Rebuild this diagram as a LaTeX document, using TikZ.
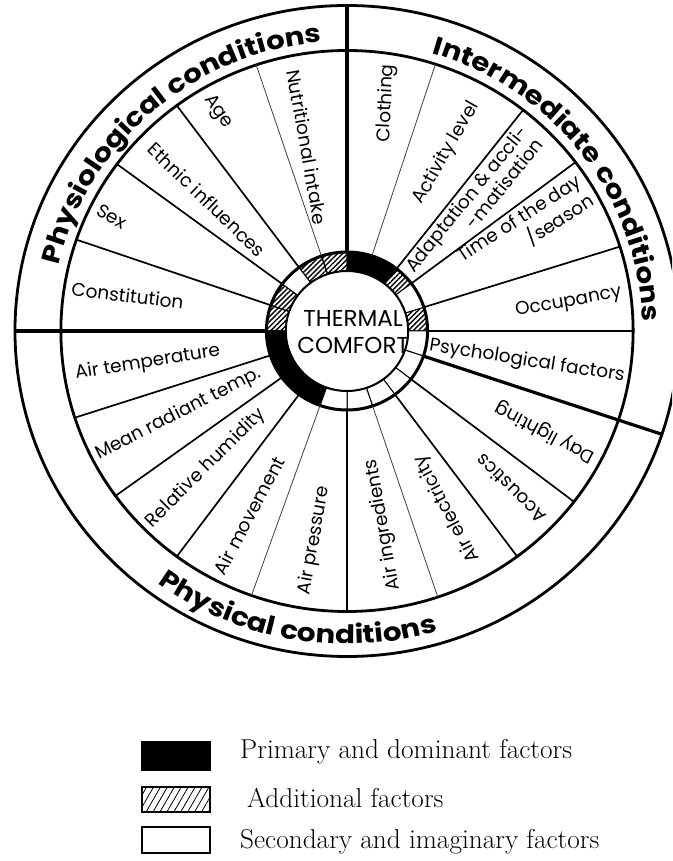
\documentclass[tikz,border=0pt]{standalone}
\usepackage{fontspec}
\setsansfont{Poppins}
\newfontfamily\headfont{Poppins}[FakeStretch=1.15]
\usetikzlibrary{decorations.text,patterns.meta}
\begin{document}
\begin{tikzpicture}[x=1pt,y=1pt,
  rim/.style={line width=2.8pt},
  spoke/.style={line width=1.7pt},
  fine/.style={line width=0.8pt, black!75},
  divider/.style={line width=3.2pt},
  lab/.style={font=\sffamily\fontsize{18.5}{20}\selectfont, inner sep=0pt, align=center},
  segline/.style={line width=1pt},
  segblack/.style={segline, fill=black},
  seghatch/.style={segline, pattern={Lines[angle=45,distance=3.6pt,line width=1.4pt]}},
  segwhite/.style={segline, fill=white},
  keybox/.style={line width=1.2pt},
  keytext/.style={font=\fontsize{27.3}{29}\selectfont, anchor=base west, inner sep=0pt}
]
\clip (-347,-530) rectangle (325,331);
\fill[white] (-347,-530) rectangle (325,331);

\begin{scope}[xscale=1.02]
  % outer band carrying the three group titles
  \draw[rim] (0,0) circle[radius=325.5];
  \draw[rim] (0,0) circle[radius=280.5];

  % central ring, one segment per factor
  \foreach \a/\b in {90/72, 72/52, -109.5/-126.5, -126.5/-144, -144/-162, -162/-180}
    \draw[segblack] (\a:60) arc[start angle=\a, end angle=\b, radius=60]
      -- (\b:79) arc[start angle=\b, end angle=\a, radius=79] -- cycle;
  \foreach \a/\b in {180/161, 161/143.5, 126.5/108.5, 108.5/90, 52/37, 17.5/0}
    \draw[seghatch] (\a:60) arc[start angle=\a, end angle=\b, radius=60]
      -- (\b:79) arc[start angle=\b, end angle=\a, radius=79] -- cycle;
  \foreach \a/\b in {143.5/126.5, 37/17.5, 0/-18.5, -18.5/-37.5, -37.5/-53.5, -53.5/-71.5, -71.5/-90, -90/-109.5}
    \draw[segwhite] (\a:60) arc[start angle=\a, end angle=\b, radius=60]
      -- (\b:79) arc[start angle=\b, end angle=\a, radius=79] -- cycle;
  \draw[line width=3pt] (0,0) circle[radius=79];
  \draw[line width=2pt] (0,0) circle[radius=60];

  % spokes between the factors
  \foreach \a in {161,143.5,126.5,52,37,17.5,0,-37.5,-53.5,-90,-126.5,-144,-162}
    \draw[spoke] (\a:79) -- (\a:280.5);
  \foreach \a in {108.5,72,-71.5,-109.5}
    \draw[fine] (\a:79) -- (\a:280.5);
  \foreach \a in {180,90,-18.5}
    \draw[divider] (\a:79) -- (\a:325.5);

  % centre
  \node (tc) [font=\sffamily\fontsize{23}{27}\selectfont, align=center, inner sep=0pt] at (6,-1) {THERMAL\\COMFORT};

  % factor labels
  \node (f1)  [lab, rotate=-7]  at (170.6:218) {Constitution};
  \node (f2)  [lab, rotate=-30] at (153.6:257) {Sex};
  \node (f3)  [lab, rotate=-44] at (136.3:190) {Ethnic influences};
  \node (f4)  [lab, rotate=-55] at (120:253)   {Age};
  \node (f5)  [lab, rotate=-80] at (102:188)   {Nutritional intake};
  \node (f6)  [lab, rotate=87]  at (80.3:231)  {Clothing};
  \node (f7)  [lab, rotate=60]  at (61.3:203)  {Activity level};
  \node (f8)  [lab, rotate=51, align=right] at (45.4:177) {Adaptation \& accli-\\-matisation};
  \node (f9)  [lab, rotate=33, align=right] at (30.2:203) {Time of the day\\/season};
  \node (f10) [lab, rotate=10]  at (7.5:219)   {Occupancy};
  \node (f11) [lab, rotate=-9]  at (-9.8:179)  {Psychological factors};
  \node (f12) [lab, rotate=152] at (-27.5:219) {Day lighting};
  \node (f13) [lab, rotate=135] at (-44.5:225) {Acoustics};
  \node (f14) [lab, rotate=118] at (-61:203)   {Air electricity};
  \node (f15) [lab, rotate=100] at (-79.6:197) {Air ingredients};
  \node (f16) [lab, rotate=80]  at (261.4:212) {Air pressure};
  \node (f17) [lab, rotate=62]  at (242.5:208) {Air movement};
  \node (f18) [lab, rotate=45]  at (224.8:195) {Relative humidity};
  \node (f19) [lab, rotate=27]  at (206.7:185) {Mean radiant temp.};
  \node (f20) [lab, rotate=9]   at (189.2:198) {Air temperature};

  % group titles set along the band
  \path[decorate, decoration={text along path, text align=center,
      text={|\headfont\bfseries\fontsize{25.5}{26}\selectfont|Physiological conditions}}]
    (178:290) arc[start angle=178, end angle=84, radius=290];
  \path[decorate, decoration={text along path, text align=center,
      text={|\headfont\bfseries\fontsize{25.5}{26}\selectfont|Intermediate conditions}}]
    (84:290) arc[start angle=84, end angle=-9, radius=290];
  \path[decorate, decoration={text along path, text align=center,
      text={|\headfont\bfseries\fontsize{25.5}{26}\selectfont|Physical conditions}}]
    (215:313) arc[start angle=215, end angle=305, radius=313];
\end{scope}

% key
\draw[keybox, fill=black] (-205,-411) rectangle (-137,-439);
\draw[keybox, pattern={Lines[angle=60,distance=6pt,line width=0.8pt]}] (-205,-456) rectangle (-137,-481);
\draw[keybox] (-205,-496) rectangle (-137,-522);
\node (k1) [keytext] at (-107,-427) {Primary and dominant factors};
\node (k2) [keytext] at (-100,-476) {Additional factors};
\node (k3) [keytext] at (-107,-517) {Secondary and imaginary factors};
\end{tikzpicture}
\end{document}
